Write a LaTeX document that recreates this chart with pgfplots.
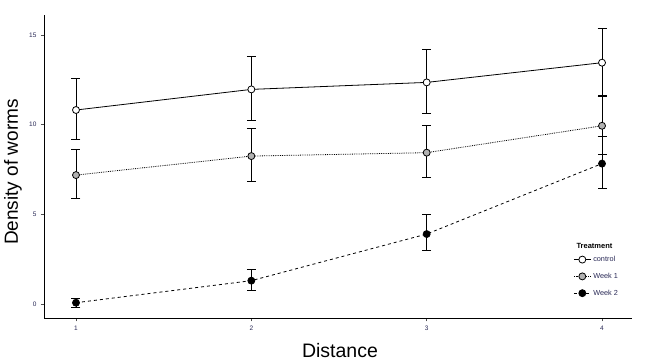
\documentclass[border=0pt]{standalone}
\usepackage{fontspec}
\setmainfont{Liberation Sans}
\usepackage{pgfplots}
\pgfplotsset{compat=1.18}
\definecolor{tickc}{RGB}{40,40,85}
\begin{document}
\begin{tikzpicture}[x=1pt,y=1pt]
\useasboundingbox (0,0) rectangle (648,360);
\begin{axis}[
  at={(44pt,41.7pt)}, anchor=south west,
  scale only axis, width=588pt, height=303.3pt,
  xmin=0.8175, xmax=4.171, ymin=-0.8, ymax=16.12,
  axis x line*=bottom, axis y line*=left,
  axis line style={line width=0.8pt, -},
  xtick={1,2,3,4}, ytick={0,5,10,15},
  tick style={line width=0.6pt, black!70},
  tick align=outside, major tick length=3pt,
  ticklabel style={font=\fontsize{6.5}{7}\selectfont, text=tickc},
  /pgf/number format/assume math mode=true,
  xticklabel style={yshift=-1pt},
  yticklabel style={xshift=-1pt},
  every axis plot/.append style={line width=0.8pt, black},
  error bars/error bar style={solid, line width=0.8pt, black},
  error bars/error mark options={rotate=90, mark size=4.5pt, line width=0.8pt, solid},
  legend style={at={(rel axis cs:0.9,0.212)}, anchor=north west, draw=none, fill=none,
    font=\fontsize{7.3}{8}\selectfont, text=tickc, row sep=6pt, inner sep=0pt},
  legend image post style={line width=0.8pt},
  legend cell align=left,
]
\addplot[solid, mark=*, mark size=3.5pt, mark options={solid, fill=white, line width=0.8pt},
  error bars/.cd, y dir=both, y explicit]
  table[x=x, y=y, y error plus=ep, y error minus=em] {
x y ep em
1 10.82 1.75 1.64
2 11.97 1.83 1.71
3 12.36 1.86 1.73
4 13.46 1.92 1.84
};
\addlegendentry{control}
\addplot[densely dotted, mark=*, mark size=3.5pt, mark options={solid, fill=black!30, line width=0.8pt},
  error bars/.cd, y dir=both, y explicit]
  table[x=x, y=y, y error plus=ep, y error minus=em] {
x y ep em
1 7.19 1.44 1.32
2 8.25 1.55 1.41
3 8.44 1.54 1.40
4 9.94 1.66 1.60
};
\addlegendentry{Week 1}
\addplot[dashed, mark=*, mark size=3.5pt, mark options={solid, fill=black, line width=0.8pt},
  error bars/.cd, y dir=both, y explicit]
  table[x=x, y=y, y error plus=ep, y error minus=em] {
x y ep em
1 0.07 0.23 0.25
2 1.30 0.64 0.52
3 3.90 1.10 0.93
4 7.83 1.50 1.40
};
\addlegendentry{Week 2}
\end{axis}
\node[anchor=base west, font=\fontsize{7.5}{8}\selectfont\bfseries] at (573,112) {Treatment};
\node[rotate=90, font=\fontsize{19}{22}\selectfont] at (13,188) {Density of worms};
\node[anchor=base, font=\fontsize{19.5}{22}\selectfont] at (340,3) {Distance};
\end{tikzpicture}
\end{document}
